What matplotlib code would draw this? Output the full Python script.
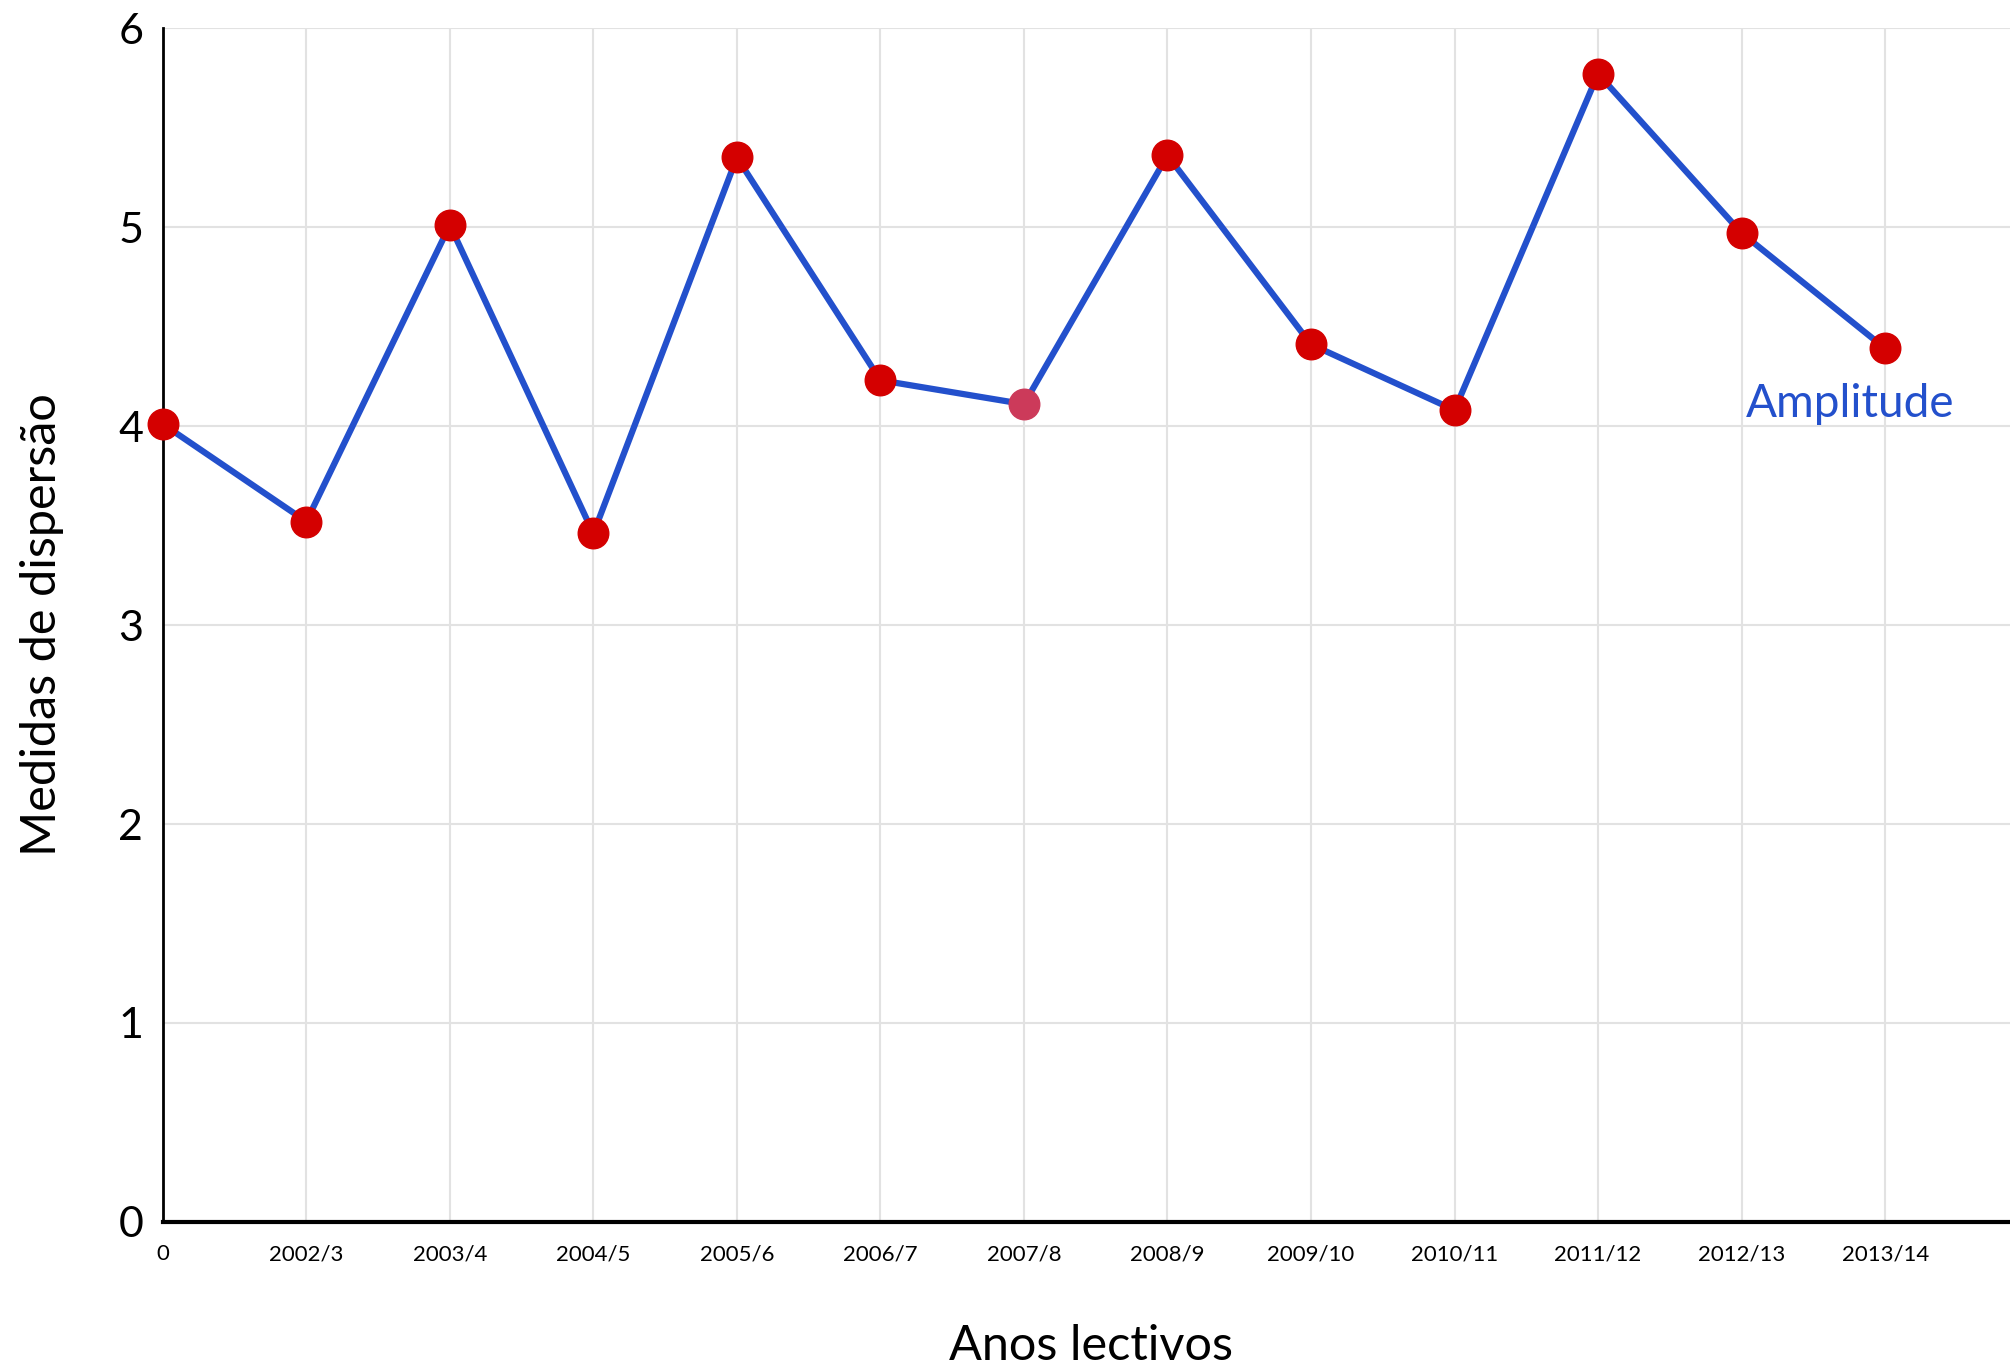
import matplotlib.pyplot as plt

plt.rcParams['font.family'] = ['Lato', 'DejaVu Sans']

# data
anos = ['0', '2002/3', '2003/4', '2004/5', '2005/6', '2006/7', '2007/8',
        '2008/9', '2009/10', '2010/11', '2011/12', '2012/13', '2013/14']
amplitude = [4.01, 3.52, 5.01, 3.46, 5.35, 4.23, 4.11,
             5.36, 4.41, 4.08, 5.77, 4.97, 4.39]
marker_cores = ['#D40000'] * len(anos)
marker_cores[6] = '#CC3A5A'

line_color = '#2350CC'

fig = plt.figure(figsize=(20.1, 13.69), dpi=100)
ax = fig.add_axes([0.081, 0.1074, 0.919, 0.8721])

x = list(range(len(anos)))
ax.plot(x, amplitude, color=line_color, linewidth=4.5, zorder=3, clip_on=False)
for xi, yi, c in zip(x, amplitude, marker_cores):
    ax.plot(xi, yi, 'o', color=c, markersize=22, zorder=4, clip_on=False)

ax.text(12.48, 4.11, 'Amplitude', color=line_color, fontsize=33,
        ha='right', va='center')

ax.set_xlim(0, 12.87)
ax.set_ylim(0, 6)
ax.set_xticks(x)
ax.set_xticklabels(anos, fontsize=16)
ax.set_yticks(range(0, 7))
ax.set_yticklabels([str(v) for v in range(0, 7)], fontsize=31)
ax.tick_params(axis='both', length=0)
ax.tick_params(axis='x', pad=16)
ax.tick_params(axis='y', pad=14)

ax.grid(True, color='#E2E2E2', linewidth=1.5)
ax.set_axisbelow(True)
for s in ['top', 'right']:
    ax.spines[s].set_visible(False)
ax.spines['left'].set_linewidth(2)
ax.spines['bottom'].set_linewidth(3)

fig.text(0.543, 0.017, 'Anos lectivos', fontsize=35, ha='center', va='center')
fig.text(0.021, 0.544, 'Medidas de dispersão', fontsize=35, rotation=90,
         ha='center', va='center')

plt.savefig('out.png', dpi=100)
